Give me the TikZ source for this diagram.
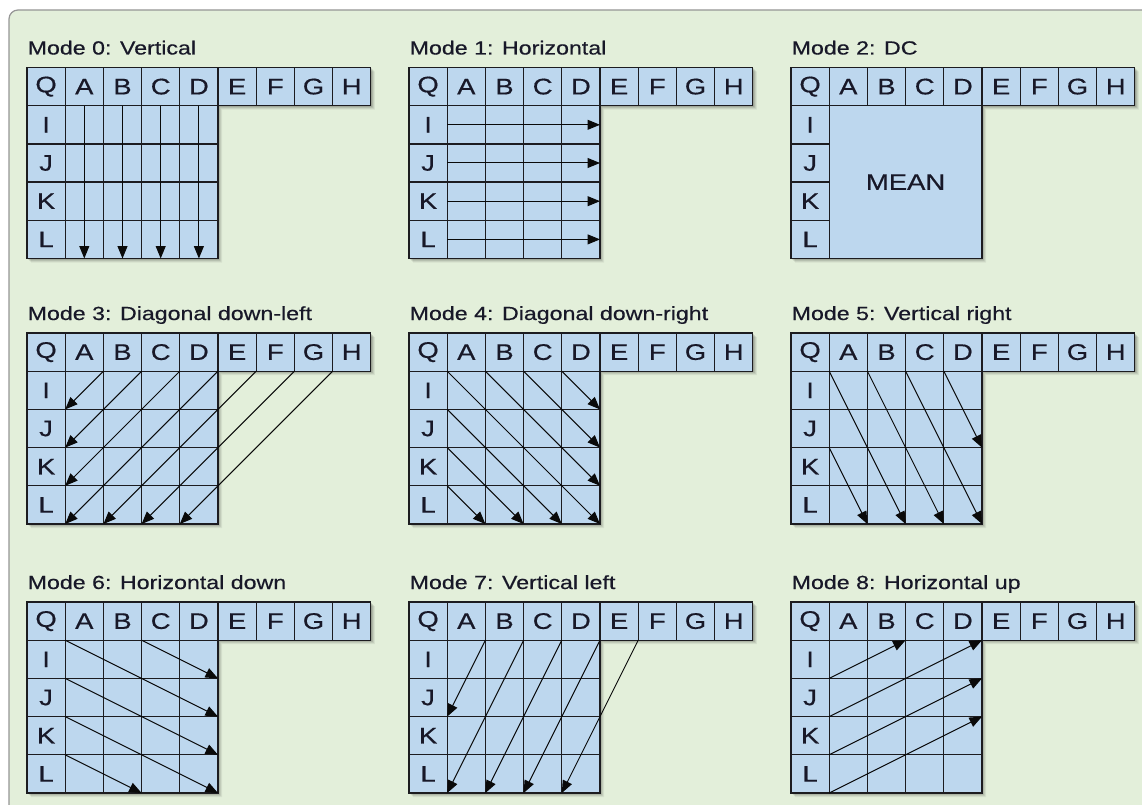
\documentclass[tikz,border=0pt]{standalone}
\usepackage{fontspec}
\usetikzlibrary{arrows.meta}
\newfontfamily\panelfont{Liberation Sans}[FakeStretch=1.22,FakeBold=0.5]
\definecolor{bgc}{RGB}{227,239,218}
\definecolor{bordc}{RGB}{150,150,150}
\definecolor{cellc}{RGB}{189,215,238}
\definecolor{gridc}{RGB}{28,28,32}
\definecolor{txtc}{RGB}{24,24,40}
\definecolor{arrc}{RGB}{10,10,10}
\newcommand{\cs}{38.2}
\tikzset{
  cell/.style={draw=gridc, fill=cellc, line width=1.3pt, minimum size=38.2pt, inner sep=0pt, outer sep=0pt,
    text=txtc, font=\panelfont\fontsize{22.5}{24}\selectfont},
  ptitle/.style={anchor=base west, inner sep=0pt, text=txtc, font=\panelfont\fontsize{19}{21}\selectfont},
  arr/.style={draw=arrc, line width=1pt, -{Triangle[length=12.5pt,width=10pt]}},
  gshadow/.style={fill=black, opacity=#1},
}
% panel frame: id, ox, oy, title
\newcommand{\gridpanel}[4]{%
  \begin{scope}[shift={(#2,#3)}]
    \foreach \o/\op in {4/0.06,3/0.08,2/0.10,1/0.12}
      \fill[gshadow=\op] (\o,\o) -- ++({9*\cs},0) -- ++(0,{\cs}) -- ++({-4*\cs},0) -- ++(0,{4*\cs}) -- ++({-5*\cs},0) -- cycle;
    \node[ptitle] (#1-title) at (0.5,-13) {#4};
    \foreach \l [count=\k from 0] in {Q,A,B,C,D,E,F,G,H}
      \node[cell] (#1-T\k) at ({(\k+0.5)*\cs},{0.5*\cs}) {\l};
    \foreach \l [count=\r from 1] in {I,J,K,L}
      \node[cell] (#1-L\r) at ({0.5*\cs},{(\r+0.5)*\cs}) {\l};
    \foreach \r in {0,...,5}
      \foreach \k in {0,...,9}
        \coordinate (#1-\k-\r) at ({\k*\cs},{\r*\cs});
  \end{scope}}
\newcommand{\innercells}[3]{%
  \begin{scope}[shift={(#2,#3)}]
    \foreach \r in {1,...,4}
      \foreach \k in {1,...,4}
        \node[cell] (#1-C\r\k) at ({(\k+0.5)*\cs},{(\r+0.5)*\cs}) {};
  \end{scope}}
\begin{document}
\begin{tikzpicture}[x=1pt,y=-1pt]
\useasboundingbox (0,0) rectangle (1142,805);
\fill[white] (0,0) rectangle (1142,805);
\draw[draw=bordc, line width=1.2pt, fill=bgc, rounded corners=9pt] (9,10) rectangle (1170,840);

% ---------- row 1
\gridpanel{m0}{27}{67.5}{Mode 0: Vertical}
\innercells{m0}{27}{67.5}
\foreach \k in {1,...,4} \draw[arr] (m0-T\k.south) -- (m0-C4\k.south);

\gridpanel{m1}{409}{67.5}{Mode 1: Horizontal}
\innercells{m1}{409}{67.5}
\foreach \r in {1,...,4} \draw[arr] (m1-L\r.east) -- (m1-C\r4.east);

\gridpanel{m2}{791}{67.5}{Mode 2: DC}
\node[cell, minimum size={4*\cs pt}] (m2-mean) at ({791+3*\cs},{67.5+3*\cs}) {MEAN};

% ---------- row 2
\gridpanel{m3}{27}{333}{Mode 3: Diagonal down-left}
\innercells{m3}{27}{333}
\foreach \a/\b/\c/\d in {2/1/1/2,3/1/1/3,4/1/1/4,5/1/1/5,6/1/2/5,7/1/3/5,8/1/4/5}
  \draw[arr] (m3-\a-\b) -- (m3-\c-\d);

\gridpanel{m4}{409}{333}{Mode 4: Diagonal down-right}
\innercells{m4}{409}{333}
\foreach \a/\b/\c/\d in {4/1/5/2,3/1/5/3,2/1/5/4,1/1/5/5,1/2/4/5,1/3/3/5,1/4/2/5}
  \draw[arr] (m4-\a-\b) -- (m4-\c-\d);

\gridpanel{m5}{791}{333}{Mode 5: Vertical right}
\innercells{m5}{791}{333}
\foreach \a/\b/\c/\d in {4/1/5/3,3/1/5/5,2/1/4/5,1/1/3/5,1/3/2/5}
  \draw[arr] (m5-\a-\b) -- (m5-\c-\d);

% ---------- row 3
\gridpanel{m6}{27}{602}{Mode 6: Horizontal down}
\innercells{m6}{27}{602}
\foreach \a/\b/\c/\d in {3/1/5/2,1/1/5/3,1/2/5/4,1/3/5/5,1/4/3/5}
  \draw[arr] (m6-\a-\b) -- (m6-\c-\d);

\gridpanel{m7}{409}{602}{Mode 7: Vertical left}
\innercells{m7}{409}{602}
\foreach \a/\b/\c/\d in {2/1/1/3,3/1/1/5,4/1/2/5,5/1/3/5,6/1/4/5}
  \draw[arr] (m7-\a-\b) -- (m7-\c-\d);

\gridpanel{m8}{791}{602}{Mode 8: Horizontal up}
\innercells{m8}{791}{602}
\foreach \a/\b/\c/\d in {1/2/3/1,1/3/5/1,1/4/5/2,1/5/5/3}
  \draw[arr] (m8-\a-\b) -- (m8-\c-\d);
\end{tikzpicture}
\end{document}
